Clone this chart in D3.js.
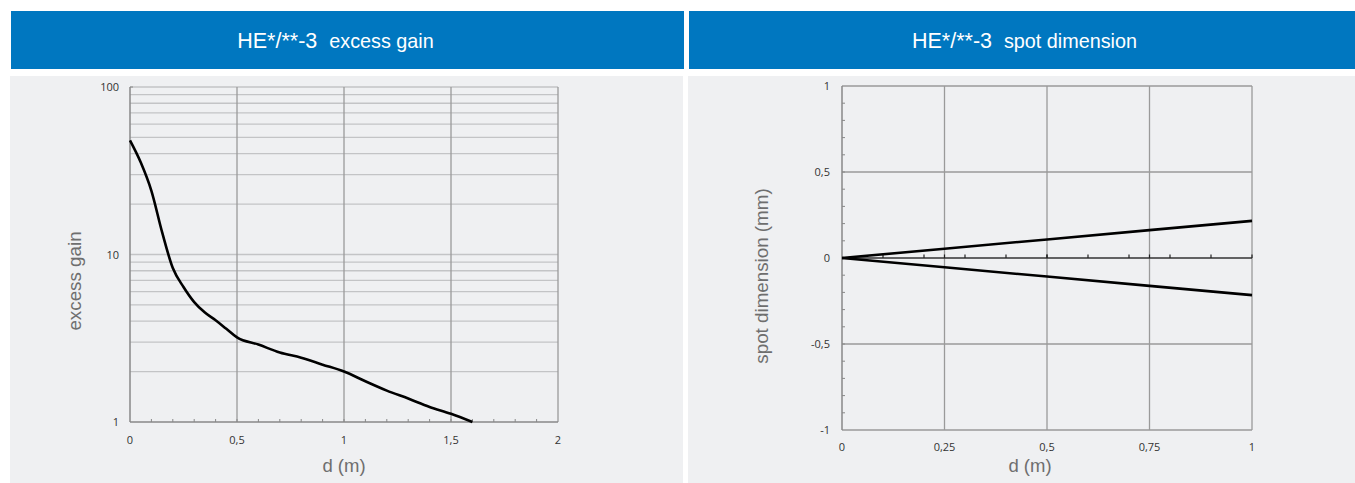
<!DOCTYPE html>
<html><head><meta charset="utf-8">
<script src="https://cdn.jsdelivr.net/npm/d3@7"></script>
<style>
body{margin:0;background:#fff;}
svg{display:block;}
text{white-space:pre;}
</style></head>
<body>
<svg id="c" width="1355" height="483"></svg>
<script>
// ---- data ----
const gainD = [0, 0.05, 0.1, 0.15, 0.2, 0.25, 0.3, 0.35, 0.4, 0.45, 0.5, 0.6, 0.7, 0.8, 0.9, 1.0, 1.1, 1.2, 1.3, 1.4, 1.5, 1.6];
const gainV = [48, 35.5, 24, 13.6, 8.3, 6.4, 5.2, 4.5, 4.05, 3.6, 3.2, 2.9, 2.6, 2.42, 2.2, 2.0, 1.75, 1.54, 1.38, 1.23, 1.12, 1.0];
const gainXTicks = [0, 0.5, 1, 1.5, 2];
const gainXTickLabels = ["0", "0,5", "1", "1,5", "2"];
const gainYTicks = [1, 10, 100];
const gainYTickLabels = ["1", "10", "100"];

const spotD = [0, 0.25, 0.5, 0.75, 1];
const spotUpper = [0, 0.054, 0.108, 0.162, 0.216];
const spotLower = [0, -0.054, -0.108, -0.162, -0.216];
const spotXTicks = [0, 0.25, 0.5, 0.75, 1];
const spotXTickLabels = ["0", "0,25", "0,5", "0,75", "1"];
const spotYTicks = [1, 0.5, 0, -0.5, -1];
const spotYTickLabels = ["1", "0,5", "0", "-0,5", "-1"];

const titles = [["HE*/**-3", "excess gain"], ["HE*/**-3", "spot dimension"]];

const svg = d3.select("#c");
const BLUE = "#0077c0", PANEL = "#eff0f2";
const tickFont = "'Open Sans', sans-serif";
const labFont = "'Liberation Sans', Arial, sans-serif";
const TS = 11;

// headers and panels
const panels = [{x0: 11, x1: 684, tc: 335.5}, {x0: 689, x1: 1355, tc: 1024.5}];
panels.forEach((p, i) => {
  svg.append("rect").attr("x", p.x0).attr("y", 11).attr("width", p.x1 - p.x0).attr("height", 58).attr("fill", BLUE);
  svg.append("rect").attr("x", p.x0 - 1).attr("y", 76).attr("width", p.x1 - p.x0 + 1 - (i === 0 ? 1 : 0)).attr("height", 407).attr("fill", PANEL);
  const t = svg.append("text").attr("x", p.tc).attr("y", 47.5)
    .attr("text-anchor", "middle").attr("fill", "#fff").attr("font-family", labFont).attr("font-size", 21.5);
  t.append("tspan").text(titles[i][0] + "  ");
  t.append("tspan").attr("font-size", 19.8).text(titles[i][1]);
});

// ---------- left chart ----------
const x1 = d3.scaleLinear().domain([0, 2]).range([130, 558]);
const y1 = d3.scaleLog().domain([1, 100]).range([422, 87]);
const g1 = svg.append("g");

// horizontal minor/major grid
const hLines = [];
for (let dec of [1, 10]) for (let m = 2; m <= 10; m++) hLines.push(dec * m);
g1.selectAll(".hg").data(hLines).enter().append("line")
  .attr("x1", x1(0)).attr("x2", x1(2)).attr("y1", d => y1(d)).attr("y2", d => y1(d))
  .attr("stroke", "#c3c4c6").attr("stroke-width", 1.3);
// vertical grid
g1.selectAll(".vg").data([0.5, 1, 1.5, 2]).enter().append("line")
  .attr("x1", d => x1(d)).attr("x2", d => x1(d)).attr("y1", y1(100)).attr("y2", y1(1))
  .attr("stroke", "#9a9a9a").attr("stroke-width", 1.3);
// axes
g1.append("line").attr("x1", x1(0)).attr("x2", x1(0)).attr("y1", y1(100)).attr("y2", y1(1)).attr("stroke", "#888").attr("stroke-width", 1.5);
g1.append("line").attr("x1", x1(0)).attr("x2", x1(2)).attr("y1", y1(1)).attr("y2", y1(1)).attr("stroke", "#888").attr("stroke-width", 1.5);
g1.append("line").attr("x1", x1(0)).attr("x2", x1(0) + 3).attr("y1", y1(100)).attr("y2", y1(100)).attr("stroke", "#888");
// minor x ticks
g1.selectAll(".mt").data(d3.range(1, 20).map(i => i / 10)).enter().append("line")
  .attr("x1", d => x1(d)).attr("x2", d => x1(d)).attr("y1", y1(1)).attr("y2", y1(1) - 3)
  .attr("stroke", "#888").attr("stroke-width", 1);
// tick labels
g1.selectAll(".xl").data(gainXTicks).enter().append("text")
  .attr("x", d => x1(d)).attr("y", 444).attr("text-anchor", "middle")
  .attr("font-family", tickFont).attr("font-size", TS).attr("fill", "#333")
  .text((d, i) => gainXTickLabels[i]);
g1.selectAll(".yl").data(gainYTicks).enter().append("text")
  .attr("x", 119).attr("y", d => y1(d) + 4).attr("text-anchor", "end")
  .attr("font-family", tickFont).attr("font-size", TS).attr("fill", "#333")
  .text((d, i) => gainYTickLabels[i]);
// curve
const line1 = d3.line().x(d => x1(d[0])).y(d => y1(d[1])).curve(d3.curveMonotoneX);
g1.append("path").datum(gainD.map((d, i) => [d, gainV[i]])).attr("d", line1)
  .attr("fill", "none").attr("stroke", "#000").attr("stroke-width", 2.6).attr("stroke-linejoin", "round");
// axis titles
g1.append("text").attr("transform", "translate(81,281) rotate(-90)").attr("text-anchor", "middle")
  .attr("font-family", labFont).attr("font-size", 18.8).attr("fill", "#6e6e6e").text("excess gain");
g1.append("text").attr("x", 344).attr("y", 472).attr("text-anchor", "middle")
  .attr("font-family", labFont).attr("font-size", 18.5).attr("fill", "#6e6e6e").text("d (m)");

// ---------- right chart ----------
const x2 = d3.scaleLinear().domain([0, 1]).range([842, 1252]);
const y2 = d3.scaleLinear().domain([-1, 1]).range([430, 86]);
const g2 = svg.append("g");
g2.selectAll(".hg").data([1, 0.5, -0.5, -1]).enter().append("line")
  .attr("x1", x2(0)).attr("x2", x2(1)).attr("y1", d => y2(d)).attr("y2", d => y2(d))
  .attr("stroke", "#9a9a9a").attr("stroke-width", 1.3);
g2.selectAll(".vg").data([0.25, 0.5, 0.75, 1]).enter().append("line")
  .attr("x1", d => x2(d)).attr("x2", d => x2(d)).attr("y1", y2(1)).attr("y2", y2(-1))
  .attr("stroke", "#9a9a9a").attr("stroke-width", 1.3);
g2.append("line").attr("x1", x2(0)).attr("x2", x2(0)).attr("y1", y2(1)).attr("y2", y2(-1)).attr("stroke", "#888").attr("stroke-width", 1.5);
// minor y ticks
g2.selectAll(".my").data(d3.range(-9, 10).map(i => i / 10)).enter().append("line")
  .attr("x1", x2(0)).attr("x2", x2(0) + 3).attr("y1", d => y2(d)).attr("y2", d => y2(d))
  .attr("stroke", "#888").attr("stroke-width", 1);
// zero line with ticks
g2.append("line").attr("x1", x2(0)).attr("x2", x2(1)).attr("y1", y2(0)).attr("y2", y2(0)).attr("stroke", "#333").attr("stroke-width", 1.5);
const zt = d3.range(1, 11).map(i => i / 10).concat([0.25, 0.5, 0.75]);
g2.selectAll(".zt").data(zt).enter().append("line")
  .attr("x1", d => x2(d)).attr("x2", d => x2(d)).attr("y1", y2(0)).attr("y2", y2(0) - 3.5)
  .attr("stroke", "#222").attr("stroke-width", 1.2);
g2.selectAll(".xl").data(spotXTicks).enter().append("text")
  .attr("x", d => x2(d)).attr("y", 451).attr("text-anchor", "middle")
  .attr("font-family", tickFont).attr("font-size", TS).attr("fill", "#333")
  .text((d, i) => spotXTickLabels[i]);
g2.selectAll(".yl").data(spotYTicks).enter().append("text")
  .attr("x", 830).attr("y", d => y2(d) + 4).attr("text-anchor", "end")
  .attr("font-family", tickFont).attr("font-size", TS).attr("fill", "#333")
  .text((d, i) => spotYTickLabels[i]);
const line2 = d3.line().x(d => x2(d[0])).y(d => y2(d[1]));
[spotUpper, spotLower].forEach(s => {
  g2.append("path").datum(spotD.map((d, i) => [d, s[i]])).attr("d", line2)
    .attr("fill", "none").attr("stroke", "#000").attr("stroke-width", 2.6);
});
g2.append("text").attr("transform", "translate(768,276) rotate(-90)").attr("text-anchor", "middle")
  .attr("font-family", labFont).attr("font-size", 18.8).attr("fill", "#6e6e6e").text("spot dimension (mm)");
g2.append("text").attr("x", 1030).attr("y", 472).attr("text-anchor", "middle")
  .attr("font-family", labFont).attr("font-size", 18.5).attr("fill", "#6e6e6e").text("d (m)");
</script>
</body></html>
